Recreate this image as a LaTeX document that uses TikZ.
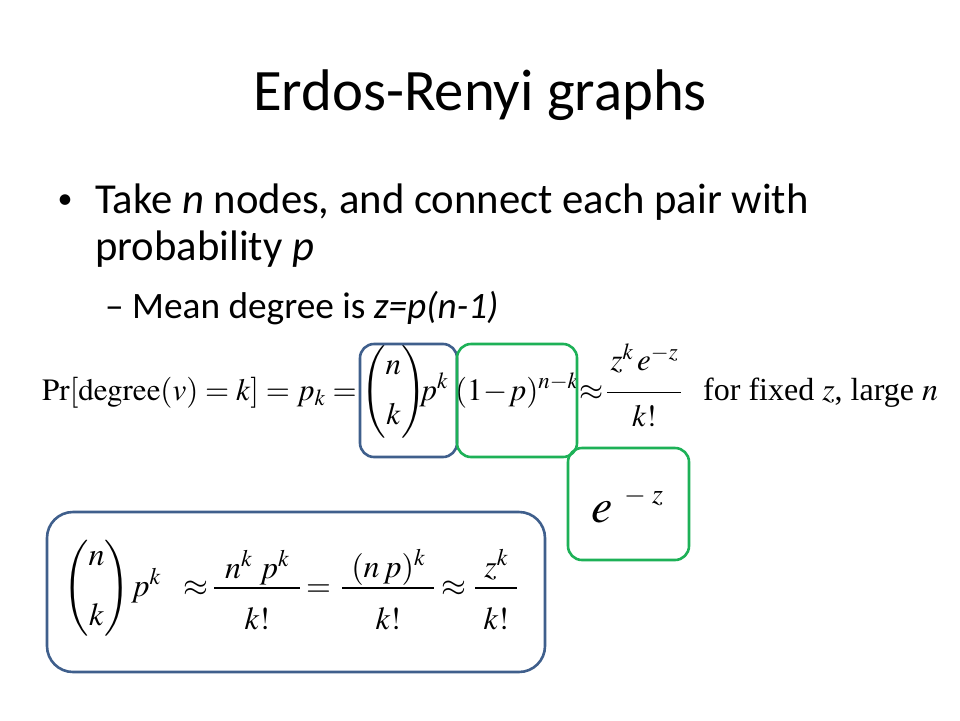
\documentclass[tikz,border=0pt]{standalone}
\usepackage{amsmath}
\usepackage{mathptmx}
\usepackage[no-math]{fontspec}
\setmainfont{Carlito}
\newfontfamily\tnr{Liberation Serif}
\definecolor{boxblue}{HTML}{3F5F8C}
\definecolor{boxgreen}{HTML}{1DB157}
\begin{document}
\begin{tikzpicture}[x=1pt,y=-1pt,
  bluebox/.style={draw=boxblue,line width=2.6pt,rounded corners=14pt,inner sep=0pt},
  greenbox/.style={draw=boxgreen,line width=2.6pt,rounded corners=14pt,inner sep=0pt},
  titletxt/.style={inner sep=0pt,font=\fontsize{58.7}{64}\selectfont},
  bodytxt/.style={inner sep=0pt,font=\fontsize{42.7}{48}\selectfont},
  subtxt/.style={inner sep=0pt,font=\fontsize{37.3}{42}\selectfont},
  eqtop/.style={inner sep=0pt,font=\fontsize{31}{34}\selectfont},
  eqbot/.style={inner sep=0pt,font=\fontsize{32}{36}\selectfont}]
\useasboundingbox (0,0) rectangle (960,720);
\fill[white] (0,0) rectangle (960,720);
% title
\node[titletxt,anchor=base] (title) at (480,110) {Erdos-Renyi graphs};
% bullets
\node[bodytxt,anchor=center] (dot1) at (65,202) {\fontsize{30}{30}\selectfont •};
\node[bodytxt,anchor=base west] (l1) at (95,213) {Take \textit{n} nodes, and connect each pair with};
\node[bodytxt,anchor=base west] (l2) at (95,260) {probability \textit{p}};
\node[subtxt,anchor=base west] (l3) at (105,318) {– Mean degree is \textit{z=p(n-1)}};
% top equation
\node[eqtop,anchor=base west] (eqA) at (42,400) {$\mathrm{Pr}[\mathrm{degree}(v)=k]=p_k=$};
\node[eqtop,anchor=base west] (eqB) at (361,400) {$\left(\begin{array}{@{}c@{}} n\\[16pt] k\end{array}\right)$};
\node[eqtop,anchor=base west] (eqP) at (419,400) {$p^{k}$};
\node[eqtop,anchor=base west] (eqC) at (455,400) {$(1\!-\!p)^{n-k}$};
\node[eqtop,anchor=base west] (eqD) at (579,400) {$\approx$};
\node[eqtop,anchor=base west] (eqF) at (606,400) {$\dfrac{\makebox[74pt]{$z^{k}\,e^{-z}$}\rule[-17pt]{0pt}{17pt}}{\rule{0pt}{30pt}k!}$};
\node[eqtop,anchor=base west,font=\fontsize{32}{34}\selectfont] (eqE) at (703,400) {\tnr for fixed $z$, large $n$};
% boxes
\node[bluebox,minimum width=97pt,minimum height=113pt] (b1) at (408.5,400.5) {};
\node[greenbox,minimum width=120pt,minimum height=113pt] (g1) at (517,400.5) {};
\node[greenbox,minimum width=121pt,minimum height=112pt] (g2) at (628.5,504) {};
\node[bluebox,rounded corners=26pt,minimum width=498pt,minimum height=160pt] (b2) at (296,592) {};
% e^{-z}
\node[inner sep=0pt,anchor=base west] (e) at (591,522) {\fontsize{48}{50}\selectfont$e$};
\node[inner sep=0pt,anchor=base west] (mz) at (624,503) {\fontsize{28}{30}\selectfont$-\;z$};
% bottom equation
\node[eqbot,anchor=base west] (bin) at (63,596) {$\left(\begin{array}{@{}c@{}} n\\[24pt] k\end{array}\right)$};
\node[eqbot,anchor=base west] (pk) at (131,596) {$p^{k}$};
\node[eqbot,anchor=base west] (ap1) at (183,596) {$\approx$};
\node[eqbot,anchor=base west] (fr1) at (213,596) {$\dfrac{\makebox[86pt]{\smash{\raisebox{-4pt}{$n^{k}\;p^{k}$}}}}{\rule{0pt}{37pt}k!}$};
\node[eqbot,anchor=base west] (eq1) at (306,596) {$=$};
\node[eqbot,anchor=base west] (fr2) at (341,596) {$\dfrac{\makebox[92pt]{\smash{\raisebox{-3pt}{$(n\mkern2mu p)^{k}$}}}}{\rule{0pt}{37pt}k!}$};
\node[eqbot,anchor=base west] (ap2) at (441,596) {$\approx$};
\node[eqbot,anchor=base west] (fr3) at (474,596) {$\dfrac{\makebox[42pt]{\smash{\raisebox{-3pt}{$z^{k}$}}}}{\rule{0pt}{37pt}k!}$};
\end{tikzpicture}
\end{document}
